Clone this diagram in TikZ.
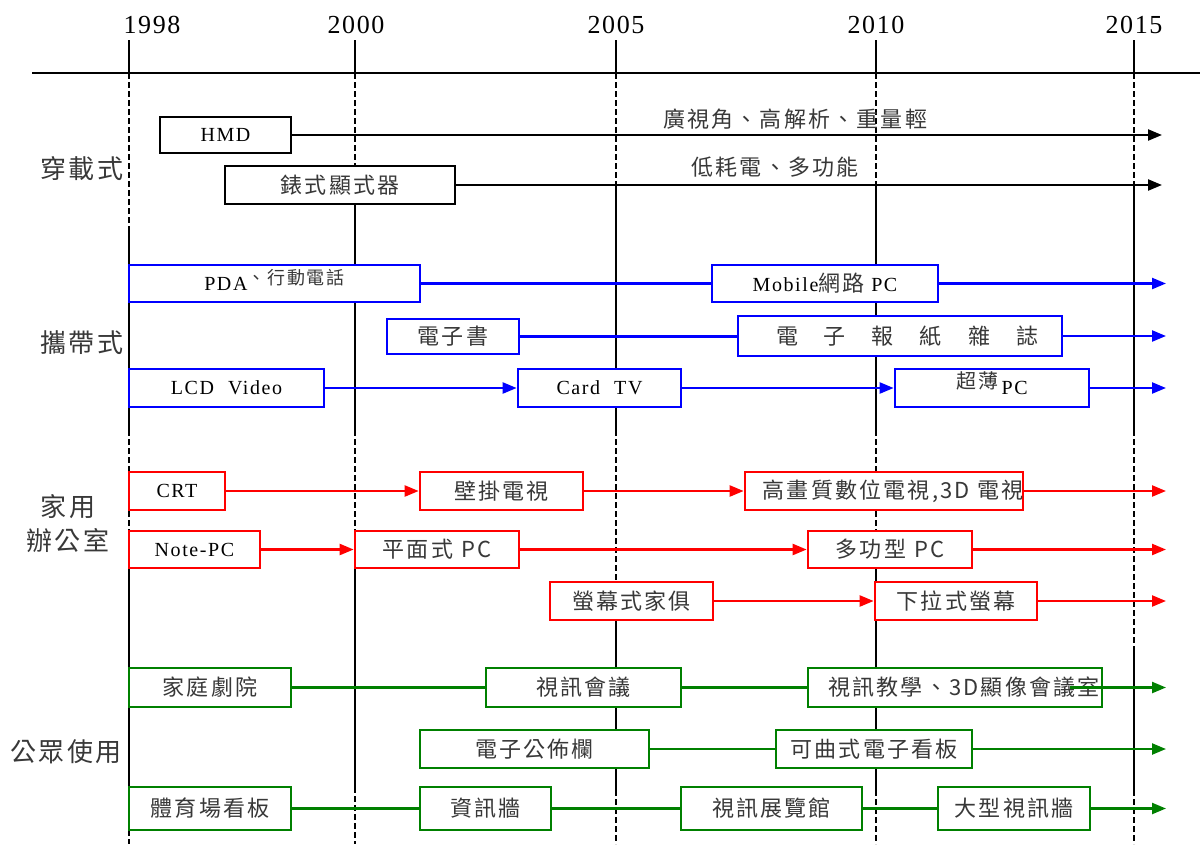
\documentclass[tikz,border=0pt]{standalone}
\usepackage{fontspec}
\usetikzlibrary{arrows.meta,calc}
\newfontfamily\latf[LetterSpace=8]{Liberation Serif}
\newfontfamily\yrf[LetterSpace=6]{Liberation Serif}
\newfontfamily\cjkf[LetterSpace=10]{Noto Sans CJK TC}
\newcommand\cj[2][22]{{\cjkf\fontsize{#1}{#1}\selectfont\color{black!78}#2}}
\newcommand\la[1]{{\latf\fontsize{20}{24}\selectfont #1}}
\definecolor{cbl}{RGB}{0,0,255}
\definecolor{crd}{RGB}{255,0,0}
\definecolor{cgr}{RGB}{0,128,0}
\tikzset{
  vline/.style={line width=2.7pt,black},
  vdash/.style={vline,dash pattern=on 6pt off 3pt},
  tbox/.style={draw=#1,line width=2.7pt,fill=white,inner sep=0pt,align=center},
  link/.style={draw=#1,line width=2.3pt},
  arr/.style={link=#1,-{Triangle[length=14pt,width=11pt]}},
  grp/.style={inner sep=0pt},
}
\begin{document}
\begin{tikzpicture}[x=1pt,y=-1pt]
\useasboundingbox (0,0) rectangle (1200,844);
% axis
\draw[line width=2.7pt] (32,73) -- (1200,73);
\foreach \x/\a/\b/\c/\d in {129/230/430/531/830, 355/165/430/531/787, 616/187/430/600/790, 876/187/430/531/790, 1134/187/430/650/790}{
  \draw[vline] (\x,40) -- (\x,73);
  \draw[vdash] (\x,73) -- (\x,\a);
  \draw[vline] (\x,\a) -- (\x,\b);
  \draw[vdash] (\x,\b) -- (\x,\c);
  \draw[vline] (\x,\c) -- (\x,\d);
  \draw[vdash] (\x,\d) -- (\x,844);
}
\foreach \x/\t in {152/1998, 356/2000, 616/2005, 876/2010, 1134/2015}{
  \node[anchor=base,inner sep=0pt] (y\t) at (\x,33) {\yrf\fontsize{26}{30}\selectfont \t};
}
% group labels
\node[grp] (g1) at (82,169) {\cj[26]{穿載式}};
\node[grp] (g2) at (82,343) {\cj[26]{攜帶式}};
\node[grp] (g3a) at (68,507) {\cj[26]{家用}};
\node[grp] (g3b) at (68,541) {\cj[26]{辦公室}};
\node[grp] (g4) at (66,752) {\cj[26]{公眾使用}};

% black
\node[tbox=black,minimum width=131pt,minimum height=36pt] (hmd) at (225.5,135) {\la{HMD}};
\node[tbox=black,minimum width=230pt,minimum height=38pt] (watch) at (340,185) {\cj{錶式顯式器}};
\coordinate (e1) at (1162,135);
\coordinate (e2) at (1162,185);
\draw[arr=black] (hmd.east) -- (e1);
\draw[arr=black] (watch.east) -- (e2);
\node[grp] (t1) at (795,119) {\cj{廣視角、高解析、重量輕}};
\node[grp] (t2) at (775,167) {\cj{低耗電、多功能}};

% blue
\node[tbox=cbl,minimum width=291pt,minimum height=37pt] (pda) at (274.5,283.5) {\la{PDA}\smash{\raisebox{6pt}{\cj[18]{、行動電話}}}};
\node[tbox=cbl,minimum width=226pt,minimum height=37pt] (mob) at (825,283.5) {\la{Mobile}\cj{網路}\la{\ PC}};
\node[tbox=cbl,minimum width=132pt,minimum height=35pt] (ebook) at (453,336.5) {\cj{電子書}};
\node[tbox=cbl,minimum width=324pt,minimum height=40pt] (news) at (900,336) {\hspace{14pt}\cj{電\hspace{26pt}子\hspace{26pt}報\hspace{26pt}紙\hspace{26pt}雜\hspace{26pt}誌}};
\node[tbox=cbl,minimum width=195pt,minimum height=38pt] (lcd) at (226.5,388) {\la{LCD\hspace{14pt}Video}};
\node[tbox=cbl,minimum width=163pt,minimum height=38pt] (card) at (599.5,388) {\la{Card\hspace{14pt}TV}};
\node[tbox=cbl,minimum width=194pt,minimum height=38pt] (thin) at (992,388) {\smash{\raisebox{6pt}{\cj[20]{超薄}}}\la{\,PC}};
\coordinate (e3) at (1166,283.5);
\coordinate (e4) at (1166,336);
\coordinate (e5) at (1166,388);
\draw[link=cbl] (pda.east) -- (mob.west);
\draw[arr=cbl] (mob.east) -- (e3);
\draw[link=cbl] (ebook.east) -- (ebook.east -| news.west);
\draw[arr=cbl] (news.east) -- (e4);
\draw[arr=cbl] (lcd.east) -- (card.west);
\draw[arr=cbl] (card.east) -- (thin.west);
\draw[arr=cbl] (thin.east) -- (e5);

% red
\node[tbox=crd,minimum width=96pt,minimum height=38pt] (crt) at (177,491) {\la{CRT}};
\node[tbox=crd,minimum width=163pt,minimum height=38pt] (wall) at (501.5,491) {\cj{壁掛電視}};
\node[tbox=crd,minimum width=278pt,minimum height=38pt] (hd) at (884,491) {\makebox[0pt]{\hspace{18pt}\cj{高畫質數位電視,3D 電視}}};
\node[tbox=crd,minimum width=131pt,minimum height=37pt] (note) at (194.5,549.5) {\la{Note-PC}};
\node[tbox=crd,minimum width=164pt,minimum height=37pt] (flat) at (437,549.5) {\cj{平面式\hspace{8pt}PC}};
\node[tbox=crd,minimum width=164pt,minimum height=37pt] (multi) at (890,549.5) {\cj{多功型\hspace{8pt}PC}};
\node[tbox=crd,minimum width=163pt,minimum height=38pt] (furn) at (631.5,601) {\cj{螢幕式家俱}};
\node[tbox=crd,minimum width=162pt,minimum height=38pt] (pull) at (956,601) {\cj{下拉式螢幕}};
\coordinate (e6) at (1166,491);
\coordinate (e7) at (1166,549.5);
\coordinate (e8) at (1166,601);
\draw[arr=crd] (crt.east) -- (wall.west);
\draw[arr=crd] (wall.east) -- (hd.west);
\draw[arr=crd] (hd.east) -- (e6);
\draw[arr=crd] (note.east) -- (flat.west);
\draw[arr=crd] (flat.east) -- (multi.west);
\draw[arr=crd] (multi.east) -- (e7);
\draw[arr=crd] (furn.east) -- (pull.west);
\draw[arr=crd] (pull.east) -- (e8);

% green
\node[tbox=cgr,minimum width=162pt,minimum height=39pt] (home) at (210,687.5) {\cj{家庭劇院}};
\node[tbox=cgr,minimum width=195pt,minimum height=39pt] (vconf) at (583.5,687.5) {\cj{視訊會議}};
\node[tbox=cgr,minimum width=294pt,minimum height=39pt] (vteach) at (955,687.5) {\makebox[0pt]{\hspace{18pt}\cj{視訊教學、3D顯像會議室}}};
\node[tbox=cgr,minimum width=229pt,minimum height=38pt] (bbs) at (534.5,749) {\cj{電子公佈欄}};
\node[tbox=cgr,minimum width=196pt,minimum height=38pt] (flex) at (874,749) {\cj{可曲式電子看板}};
\node[tbox=cgr,minimum width=162pt,minimum height=43pt] (stad) at (210,808.5) {\cj{體育場看板}};
\node[tbox=cgr,minimum width=131pt,minimum height=43pt] (infow) at (485.5,808.5) {\cj{資訊牆}};
\node[tbox=cgr,minimum width=181pt,minimum height=43pt] (expo) at (771.5,808.5) {\cj{視訊展覽館}};
\node[tbox=cgr,minimum width=152pt,minimum height=43pt] (big) at (1014,808.5) {\cj{大型視訊牆}};
\coordinate (e9) at (1166,687.5);
\coordinate (e10) at (1166,749);
\coordinate (e11) at (1166,808.5);
\draw[link=cgr] (home.east) -- (vconf.west);
\draw[link=cgr] (vconf.east) -- (vteach.west);
\draw[arr=cgr] ($(vteach.east)+(-33,0)$) -- (e9);
\draw[link=cgr] (bbs.east) -- (flex.west);
\draw[arr=cgr] (flex.east) -- (e10);
\draw[link=cgr] (stad.east) -- (infow.west);
\draw[link=cgr] (infow.east) -- (expo.west);
\draw[link=cgr] (expo.east) -- (big.west);
\draw[arr=cgr] (big.east) -- (e11);
\end{tikzpicture}
\end{document}
